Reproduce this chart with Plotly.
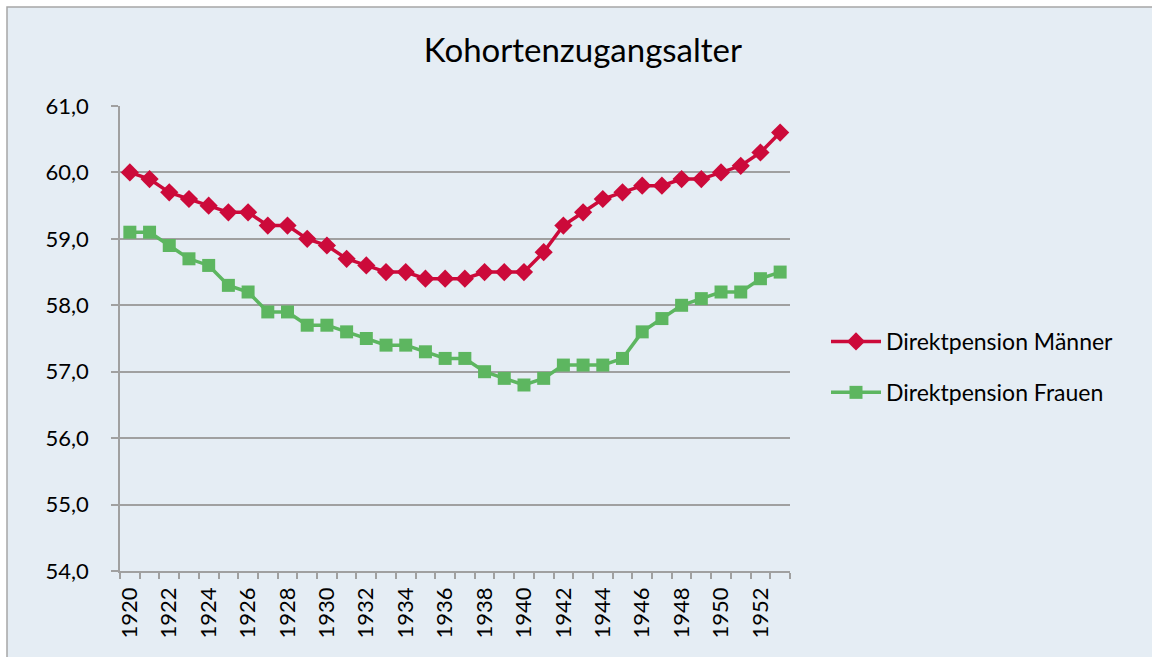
import plotly.graph_objects as go

years = list(range(1920, 1954))
maenner = [60.0, 59.9, 59.7, 59.6, 59.5, 59.4, 59.4, 59.2, 59.2, 59.0,
           58.9, 58.7, 58.6, 58.5, 58.5, 58.4, 58.4, 58.4, 58.5, 58.5,
           58.5, 58.8, 59.2, 59.4, 59.6, 59.7, 59.8, 59.8, 59.9, 59.9,
           60.0, 60.1, 60.3, 60.6]
frauen = [59.1, 59.1, 58.9, 58.7, 58.6, 58.3, 58.2, 57.9, 57.9, 57.7,
          57.7, 57.6, 57.5, 57.4, 57.4, 57.3, 57.2, 57.2, 57.0, 56.9,
          56.8, 56.9, 57.1, 57.1, 57.1, 57.2, 57.6, 57.8, 58.0, 58.1,
          58.2, 58.2, 58.4, 58.5]
tick_years = list(range(1920, 1954, 2))
y_ticks = [54, 55, 56, 57, 58, 59, 60, 61]

FONT = "Lato"
BG = "#E5EDF4"
RED = "#CC0A3A"
GREEN = "#5DB660"

fig = go.Figure()
fig.add_trace(go.Scatter(
    x=years, y=maenner, name="Direktpension Männer", mode="lines+markers",
    line=dict(color=RED, width=3.5), marker=dict(symbol="diamond", size=14, color=RED),
    legendgroup="m"))
fig.add_trace(go.Scatter(
    x=years, y=frauen, name="Direktpension Frauen", mode="lines+markers",
    line=dict(color=GREEN, width=3.5), marker=dict(symbol="square", size=13, color=GREEN),
    legendgroup="f"))

W, H = 1152, 657
L, R, T, B = 120, 362, 106, 86
pw, ph = W - L - R, H - T - B

def px_x(px):
    return (px - L) / pw

def px_y(py):
    return (H - B - py) / ph

fig.add_shape(type="rect", xref="paper", yref="paper",
              x0=px_x(7), x1=px_x(1165), y0=px_y(670), y1=px_y(7),
              fillcolor=BG, line=dict(color="#A6A6A6", width=1.5), layer="below")

fig.update_layout(
    width=W, height=H,
    margin=dict(l=L, r=R, t=T, b=B),
    paper_bgcolor="white", plot_bgcolor=BG,
    separators=",.",
    font=dict(family=FONT, size=22, color="#000000"),
    title=dict(text="Kohortenzugangsalter", x=0.506, xanchor="center",
               y=1 - 50 / H, yanchor="middle", font=dict(size=33, family=FONT)),
    showlegend=True,
    legend=dict(x=px_x(826), xanchor="left", y=px_y(367), yanchor="middle",
                bgcolor="rgba(0,0,0,0)", font=dict(size=23), itemwidth=50,
                tracegroupgap=18, traceorder="grouped"),
    xaxis=dict(range=[1919.5, 1953.5], tickmode="array", tickvals=tick_years,
               ticktext=[str(v) for v in tick_years], tickangle=-90,
               showgrid=False, zeroline=False, showline=True, linecolor="#A0A0A0",
               linewidth=1.5, ticks="", ticklabelstandoff=6,
               minor=dict(tickmode="linear", tick0=1919.5, dtick=1, ticks="outside",
                          ticklen=6, tickcolor="#A0A0A0", tickwidth=1.5, showgrid=False)),
    yaxis=dict(range=[54, 61], tickmode="array", tickvals=y_ticks, tickformat=".1f",
               showgrid=True, gridcolor="#A0A0A0", gridwidth=1.5, zeroline=False,
               showline=True, linecolor="#A0A0A0", linewidth=1.5,
               ticks="outside", ticklen=7, tickcolor="#A0A0A0", tickwidth=1.5,
               ticklabelstandoff=18),
)

fig.write_html("out.html", config={"displayModeBar": False},
               post_script="document.body.style.margin='0';document.body.style.overflow='hidden';")
